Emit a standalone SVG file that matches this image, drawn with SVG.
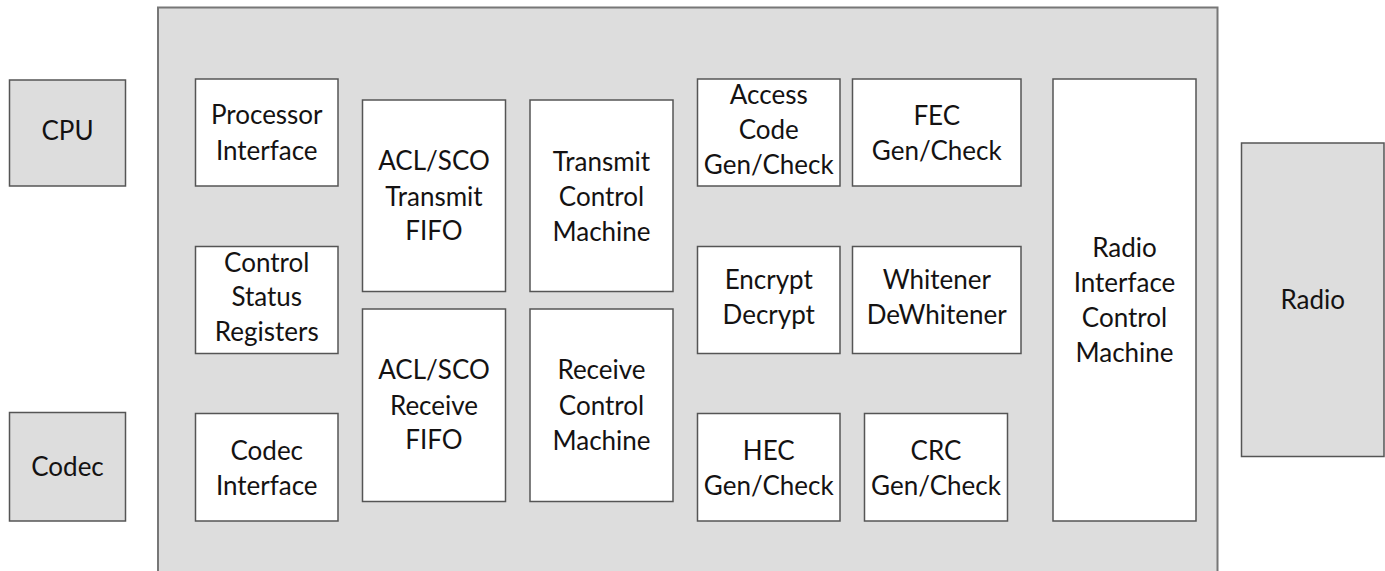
<svg xmlns="http://www.w3.org/2000/svg" width="1385" height="571" viewBox="0 0 1385 571">
  <style>
    .ext { fill: #dddddd; stroke: #555555; stroke-width: 1.5; }
    .blk { fill: #ffffff; stroke: #555555; stroke-width: 1.5; }
    .chip { fill: #dddddd; stroke: #777777; stroke-width: 2; }
    text { font-family: Lato, "Open Sans", "Liberation Sans", sans-serif; font-size: 26px; fill: #141212; text-anchor: middle; }
  </style>
  <rect width="1385" height="571" fill="#ffffff"/>

  <!-- baseband controller boundary -->
  <g id="baseband">
    <rect class="chip" x="158" y="7.5" width="1059.5" height="580"/>
  </g>

  <!-- external devices -->
  <g id="cpu">
    <rect class="ext" x="9.5" y="80" width="116" height="106"/>
    <text x="67.5" y="140">CPU</text>
  </g>
  <g id="codec">
    <rect class="ext" x="9.5" y="412.5" width="116" height="108.5"/>
    <text x="67.5" y="475.5">Codec</text>
  </g>
  <g id="radio">
    <rect class="ext" x="1241.5" y="143" width="142.5" height="313.5"/>
    <text x="1312.75" y="309">Radio</text>
  </g>

  <!-- host-side interfaces -->
  <g id="processor-interface">
    <rect class="blk" x="195.5" y="79" width="142.5" height="107"/>
    <text x="266.75" y="124">Processor</text>
    <text x="266.75" y="159.5">Interface</text>
  </g>
  <g id="control-status-registers">
    <rect class="blk" x="195.5" y="246.5" width="142.5" height="107"/>
    <text x="266.75" y="271.5">Control</text>
    <text x="266.75" y="306">Status</text>
    <text x="266.75" y="340.5">Registers</text>
  </g>
  <g id="codec-interface">
    <rect class="blk" x="195.5" y="413.5" width="142.5" height="107.5"/>
    <text x="266.75" y="460">Codec</text>
    <text x="266.75" y="494.5">Interface</text>
  </g>

  <!-- FIFOs -->
  <g id="tx-fifo">
    <rect class="blk" x="362.5" y="100" width="143" height="191.5"/>
    <text x="434" y="170">ACL/SCO</text>
    <text x="434" y="205.5">Transmit</text>
    <text x="434" y="240">FIFO</text>
  </g>
  <g id="rx-fifo">
    <rect class="blk" x="362.5" y="309" width="143" height="192.5"/>
    <text x="434" y="379">ACL/SCO</text>
    <text x="434" y="414.5">Receive</text>
    <text x="434" y="449">FIFO</text>
  </g>

  <!-- control machines -->
  <g id="tx-control">
    <rect class="blk" x="530" y="100" width="143" height="191.5"/>
    <text x="601.5" y="170.5">Transmit</text>
    <text x="601.5" y="206">Control</text>
    <text x="601.5" y="241">Machine</text>
  </g>
  <g id="rx-control">
    <rect class="blk" x="530" y="309" width="143" height="192.5"/>
    <text x="601.5" y="379">Receive</text>
    <text x="601.5" y="414.5">Control</text>
    <text x="601.5" y="449.5">Machine</text>
  </g>

  <!-- bitstream processing -->
  <g id="access-code">
    <rect class="blk" x="697.5" y="79" width="142.5" height="107"/>
    <text x="768.75" y="103.5">Access</text>
    <text x="768.75" y="138.5">Code</text>
    <text x="768.75" y="173.5">Gen/Check</text>
  </g>
  <g id="fec">
    <rect class="blk" x="852.5" y="79" width="168.5" height="107"/>
    <text x="936.75" y="125">FEC</text>
    <text x="936.75" y="160">Gen/Check</text>
  </g>
  <g id="encrypt">
    <rect class="blk" x="697.5" y="246.5" width="142.5" height="107"/>
    <text x="768.75" y="288.5">Encrypt</text>
    <text x="768.75" y="323.5">Decrypt</text>
  </g>
  <g id="whitener">
    <rect class="blk" x="852.5" y="246.5" width="168.5" height="107"/>
    <text x="936.75" y="288.5">Whitener</text>
    <text x="936.75" y="323.5">DeWhitener</text>
  </g>
  <g id="hec">
    <rect class="blk" x="697.5" y="413.5" width="142.5" height="107.5"/>
    <text x="768.75" y="460">HEC</text>
    <text x="768.75" y="494.5">Gen/Check</text>
  </g>
  <g id="crc">
    <rect class="blk" x="864.5" y="413.5" width="143" height="107.5"/>
    <text x="936" y="460">CRC</text>
    <text x="936" y="494.5">Gen/Check</text>
  </g>

  <!-- radio side -->
  <g id="radio-interface">
    <rect class="blk" x="1053" y="79" width="143" height="442"/>
    <text x="1124.5" y="257">Radio</text>
    <text x="1124.5" y="292">Interface</text>
    <text x="1124.5" y="327">Control</text>
    <text x="1124.5" y="362">Machine</text>
  </g>

  <!-- no connectors are drawn in this block diagram -->
  <g id="connectors"/>
</svg>
